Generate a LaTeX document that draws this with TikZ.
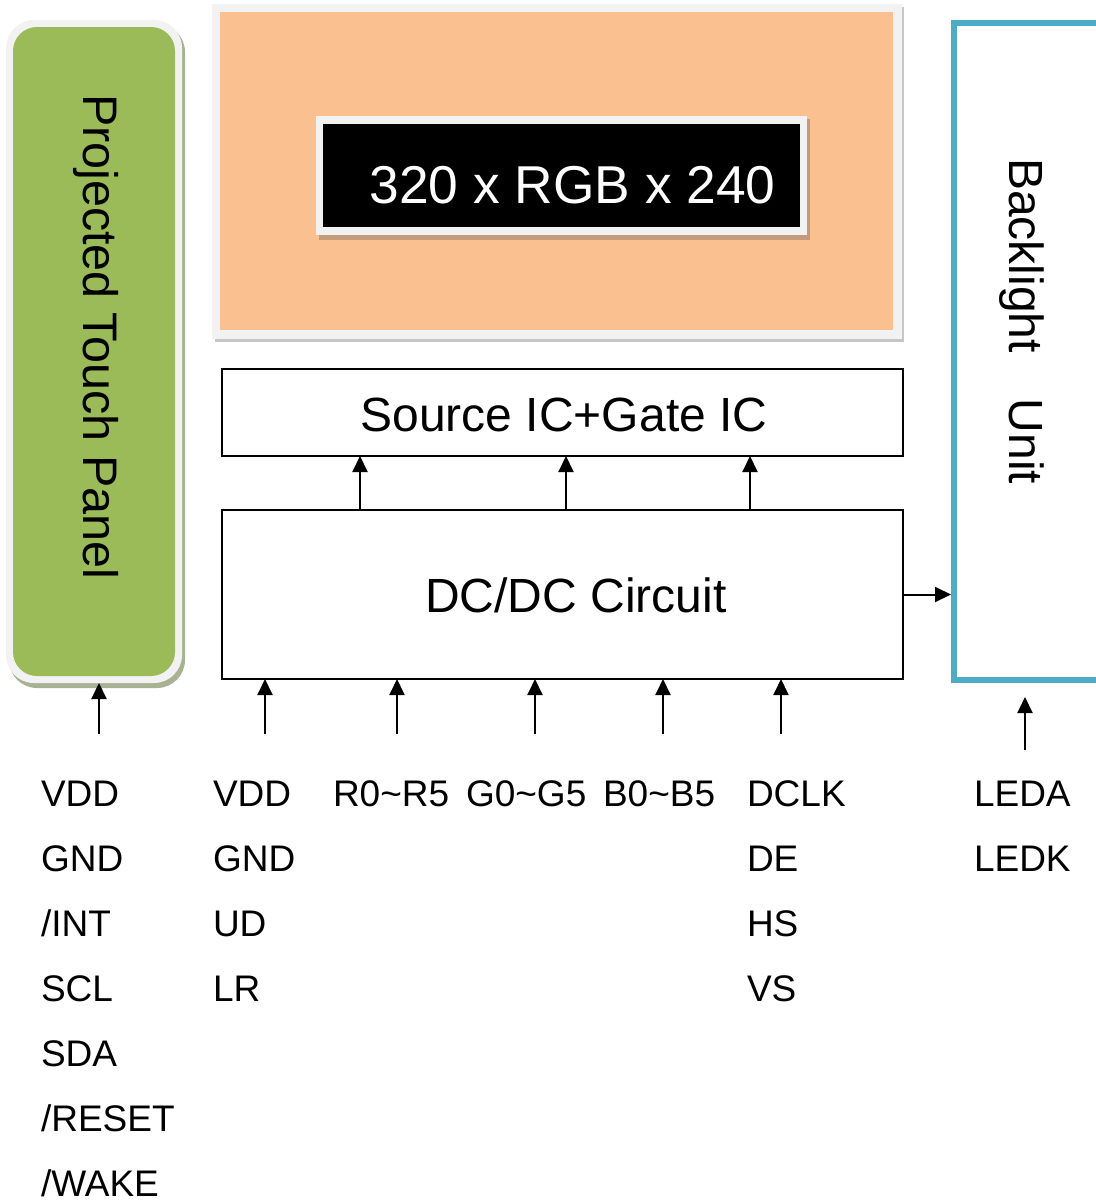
\documentclass[tikz,border=0pt]{standalone}
\usepackage{fontspec}
\setmainfont{Liberation Sans}
\usetikzlibrary{arrows.meta,calc}
\definecolor{pgreen}{HTML}{9BBB59}
\definecolor{pgray}{HTML}{F2F2F2}
\definecolor{porange}{HTML}{FAC090}
\definecolor{pcyan}{HTML}{4BACC6}
\definecolor{gshadow}{HTML}{A8B292}
\definecolor{oshadow}{HTML}{C6C6C6}
\definecolor{bshadow}{HTML}{C49C7C}
\begin{document}
\begin{tikzpicture}[x=1pt,y=-1pt,
  plain/.style={inner sep=0pt, outer sep=0pt},
  box/.style={plain, draw=black, line width=2pt},
  arr/.style={line width=2pt, -{Triangle[length=16pt,width=15pt]}},
  lbl/.style={plain, anchor=base west, font=\fontsize{37}{44}\selectfont},
  bigtxt/.style={plain, font=\fontsize{48}{56}\selectfont}]
\useasboundingbox (0,0) rectangle (1095,1202);

% touch panel
\fill[gshadow, rounded corners=28pt] (9,24) rectangle (185,688);
\node[plain, fill=pgray, rounded corners=28pt, minimum width=176pt, minimum height=663pt] (tpo) at (94,351.5) {};
\node[plain, fill=pgreen, rounded corners=24pt, minimum width=162pt, minimum height=649pt] (tp) at (94,351.5) {};
\node[plain, font=\fontsize{48.5}{56}\selectfont, rotate=-90, anchor=base west] (tptxt) at (83,94) {Projected Touch Panel};

% LCD glass
\fill[oshadow] (215,7) rectangle (904,342);
\node[plain, fill=pgray, minimum width=690pt, minimum height=335pt] (lcdo) at (557,171.5) {};
\node[plain, fill=porange, minimum width=673pt, minimum height=318pt] (lcd) at (556.5,171) {};

% resolution box
\fill[bshadow] (319,119) rectangle (810,240);
\node[plain, fill=pgray, minimum width=491pt, minimum height=119pt] (reso) at (561.5,175.5) {};
\node[plain, fill=black, minimum width=477pt, minimum height=103pt] (res) at (561.5,175.5) {};
\node[plain, anchor=base, text=white, font=\fontsize{53.3}{62}\selectfont] (restxt) at (572.5,203) {320 x RGB x 240};

% Source / gate IC
\node[box, minimum width=681pt, minimum height=87pt] (src) at (562.5,412.5) {};
\node[bigtxt, anchor=base] (srctxt) at (564,431) {Source IC+Gate IC};

% DC/DC
\node[box, minimum width=681pt, minimum height=169pt] (dc) at (562.5,594.5) {};
\node[bigtxt, anchor=base] (dctxt) at (576,612) {DC/DC Circuit};

% backlight
\node[plain, minimum width=156pt, minimum height=657pt] (bl) at (1032,351.5) {};
\draw[pcyan, line width=6pt] (bl.north east) -- (bl.north west) -- (bl.south west) -- (bl.south east);
\node[bigtxt, rotate=-90, anchor=base west] (bltxt) at (1009,158) {Backlight\hspace{46pt}Unit};

% arrows DC -> source
\foreach \x [count=\i] in {360,566,750} {
  \coordinate (t\i) at (\x,0);
  \draw[arr] (t\i |- dc.north) -- (t\i |- src.south);
}
% arrows into DC/DC
\foreach \x [count=\i] in {265,397,535,663,781} {
  \coordinate (b\i) at (\x,734);
  \draw[arr] (b\i) -- (b\i |- dc.south);
}
% arrow into touch panel
\coordinate (p0) at (99,734);
\draw[arr] (p0) -- (p0 |- tpo.south);
% DC -> backlight
\draw[arr, shorten >=3pt] (dc.east) -- (bl.west |- dc.east);
% LED arrow
\coordinate (led0) at (1025,750);
\coordinate (led1) at (1025,697);
\draw[arr] (led0) -- (led1);

% labels
\foreach \t [count=\i from 0] in {VDD,GND,/INT,SCL,SDA,/RESET,/WAKE}
  \node[lbl] (la\i) at (41,806+65*\i) {\t};
\foreach \t [count=\i from 0] in {VDD,GND,UD,LR}
  \node[lbl] (lb\i) at (213,806+65*\i) {\t};
\node[lbl] (lr) at (333,806) {R0\char`~R5};
\node[lbl] (lg) at (466,806) {G0\char`~G5};
\node[lbl] (lbb) at (603,806) {B0\char`~B5};
\foreach \t [count=\i from 0] in {DCLK,DE,HS,VS}
  \node[lbl] (ld\i) at (747,806+65*\i) {\t};
\foreach \t [count=\i from 0] in {LEDA,LEDK}
  \node[lbl] (le\i) at (974,806+65*\i) {\t};
\end{tikzpicture}
\end{document}
